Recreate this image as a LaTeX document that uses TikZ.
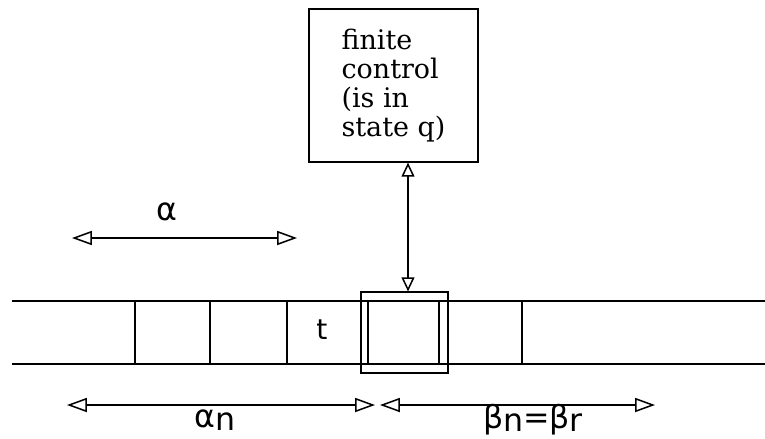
\documentclass[tikz,border=0pt]{standalone}
\usepackage{fontspec}
\newfontfamily\boxfont{DejaVu Serif}
\newfontfamily\labelfont{DejaVu Sans}
\usetikzlibrary{arrows.meta}
\begin{document}
\begin{tikzpicture}[x=0.03cm, y=-0.03cm, line width=1pt,
  dim/.style={{Triangle[open,length=17pt,width=12pt,line width=1.3pt]}-{Triangle[open,length=17pt,width=12pt,line width=1.3pt]}},
  headarrow/.style={{Triangle[open,length=12pt,width=11pt,line width=1.3pt]}-{Triangle[open,length=12pt,width=11pt,line width=1.3pt]}},
  lbl/.style={font=\labelfont\fontsize{27}{29}\selectfont}]
\useasboundingbox (0,0) rectangle (765,438);

% Finite control
\node[draw, minimum width=5.07cm, minimum height=4.59cm, align=left,
  font=\boxfont\fontsize{23}{24.7}\selectfont] (fc) at (393.5,85.5) {finite\\control\\(is in\\state q)};

% Tape
\draw (12,301) -- (765,301);
\draw (12,364) -- (765,364);
\foreach \x in {135,210,287,522}
  \draw (\x,301) -- (\x,364);
\node[font=\labelfont\fontsize{24}{26}\selectfont] (t) at (322,330) {t};

% Head
\node[draw, minimum width=2.61cm, minimum height=2.43cm] (head) at (404.5,332.5) {};
\draw (368,301) -- (368,364);
\draw (439,301) -- (439,364);
\draw[headarrow] (fc.south -| 408,0) -- (head.north -| 408,0);

% Dimensions
\coordinate (a1) at (72,238);
\coordinate (a2) at (297,238);
\draw[dim] (a1) -- (a2);
\node[lbl] (alpha) at (167,212) {α};

\coordinate (an1) at (67,405);
\coordinate (an2) at (375,405);
\draw[dim] (an1) -- (an2);
\node[lbl] (alphan) at (215,420) {α\raisebox{-2pt}{n}};

\coordinate (bn1) at (380,405);
\coordinate (bn2) at (655,405);
\draw[dim] (bn1) -- (bn2);
\node[lbl] (betan) at (533,420) {β\raisebox{-2pt}{n}=β\raisebox{-2pt}{r}};
\end{tikzpicture}
\end{document}
